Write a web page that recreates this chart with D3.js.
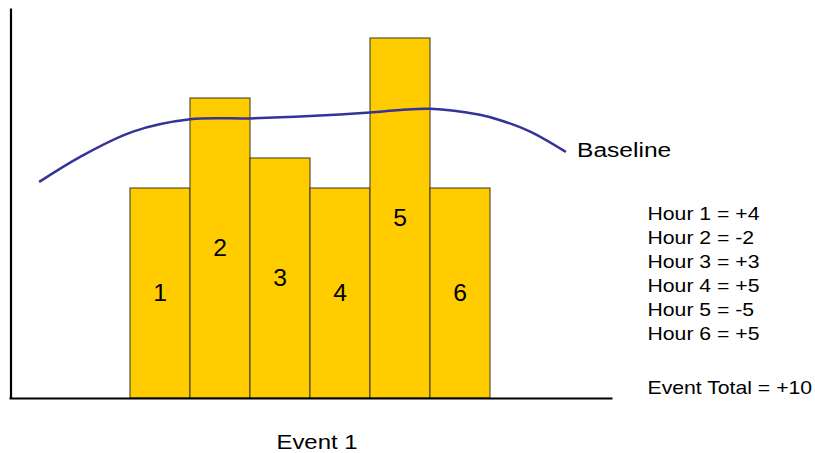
<!DOCTYPE html>
<html>
<head>
<meta charset="utf-8">
<script src="https://cdn.jsdelivr.net/npm/d3@7"></script>
<style>
  html, body { margin: 0; padding: 0; background: #fff; }
  svg { display: block; }
  text { font-family: "Liberation Sans", Arial, Helvetica, sans-serif; fill: #000; }
</style>
</head>
<body>
<svg id="chart" width="815" height="453"></svg>
<script>
// Hourly bars for one event
const hours = ["1", "2", "3", "4", "5", "6"];
const barValues = [3.5, 5, 4, 3.5, 6, 3.5];

// Smooth baseline curve, sampled along the hour axis
const baselineHours = [-1.0, -0.33, 0.55, 1.5, 2.5, 3.5, 4.5, 5.0, 5.5, 6.33, 6.67, 7.17, 7.75];
const baselineValues = [3.61, 4.02, 4.44, 4.645, 4.66, 4.70, 4.76, 4.80, 4.82, 4.72, 4.63, 4.44, 4.11];

// Per-hour scores listed beside the chart
const scoreLabels = ["Hour 1 = +4", "Hour 2 = -2", "Hour 3 = +3", "Hour 4 = +5", "Hour 5 = -5", "Hour 6 = +5"];
const totalLabel = "Event Total = +10";
const eventLabel = "Event 1";
const curveLabel = "Baseline";

const svg = d3.select("#chart");

const x = d3.scaleBand().domain(hours).range([130, 490]).padding(0);
const xHour = d3.scaleLinear().domain([0.5, 6.5]).range([130, 490]);
const y = d3.scaleLinear().domain([0, 6.5]).range([398, 8]);

// Text helper: the lettering is slightly wide, so stretch it horizontally
function label(g, str, px, py, size, anchor, sx) {
  return g.append("text")
    .attr("font-size", size)
    .attr("text-anchor", anchor || "start")
    .attr("transform", `translate(${px},${py}) scale(${sx || 1.12},1)`)
    .text(str);
}

// Bars
svg.append("g").selectAll("rect")
  .data(barValues)
  .join("rect")
  .attr("x", (d, i) => x(hours[i]))
  .attr("y", d => y(d))
  .attr("width", x.bandwidth())
  .attr("height", d => y(0) - y(d))
  .attr("fill", "#FFCC00")
  .attr("stroke", "#3a3220")
  .attr("stroke-width", 1);

// Hour numbers inside bars, centred vertically
const inner = svg.append("g");
barValues.forEach((d, i) => {
  const cx = x(hours[i]) + x.bandwidth() / 2;
  const cy = (y(d) + y(0)) / 2 + 8;
  label(inner, hours[i], cx, cy, 23.5, "middle", 1.05);
});

// Baseline curve
const line = d3.line()
  .x(d => xHour(d[0]))
  .y(d => y(d[1]))
  .curve(d3.curveCatmullRom.alpha(0.5));

svg.append("path")
  .datum(baselineHours.map((h, i) => [h, baselineValues[i]]))
  .attr("d", line)
  .attr("fill", "none")
  .attr("stroke", "#333399")
  .attr("stroke-width", 2.5)
  .attr("stroke-linecap", "round");

// Axes (plain lines, no ticks)
const axisX = d3.axisBottom(d3.scaleLinear().range([9, 612])).ticks(0).tickSizeOuter(0);
const axisY = d3.axisLeft(d3.scaleLinear().range([8, 398])).ticks(0).tickSizeOuter(0);
svg.append("g").attr("transform", "translate(0,398)").call(axisX)
  .select(".domain").attr("stroke", "#000").attr("stroke-width", 2.2);
svg.append("g").attr("transform", "translate(10.5,0)").call(axisY)
  .select(".domain").attr("stroke", "#000").attr("stroke-width", 2.2);

// Labels
const labels = svg.append("g");
label(labels, curveLabel, 577, 157, 21, "start", 1.17);
label(labels, eventLabel, 317, 449, 21, "middle", 1.14);

scoreLabels.forEach((s, i) => {
  label(labels, s, 647.5, 220 + i * 24, 18.6, "start", 1.14);
});
label(labels, totalLabel, 647.5, 394, 18.6, "start", 1.14);
</script>
</body>
</html>
